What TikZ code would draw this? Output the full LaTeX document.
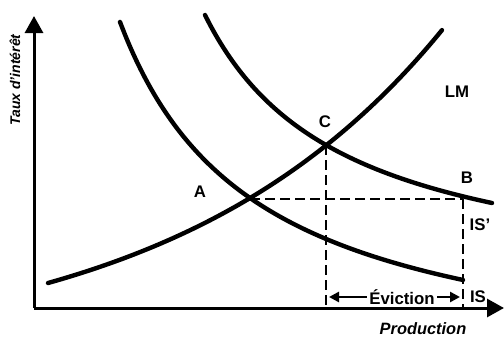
\documentclass[tikz,border=0pt]{standalone}
\usepackage{fontspec}
\setmainfont{Liberation Sans}
\usetikzlibrary{calc, positioning, arrows.meta}

\begin{document}
\begin{tikzpicture}[x=5pt, y=-5pt,
    axis/.style={line width=1.5pt, -{Triangle[length=8.5pt, width=9pt]}},
    curve/.style={line width=2.2pt, line cap=round, smooth},
    dashline/.style={line width=1.4pt, dash pattern=on 5pt off 2.5pt},
    lbl/.style={inner sep=0pt, font=\fontsize{8.4}{10}\selectfont\bfseries},
    evarrow/.style={line width=1.4pt, -{Triangle[length=5pt, width=5pt]}}]
  \useasboundingbox (0,0) rectangle (50.4,33.7);
  \coordinate (O) at (3.4,30.8);
  \coordinate (ytop) at (3.4,1.6);
  \coordinate (xend) at (50.4,30.8);
  \coordinate (A) at (25.0,19.9);
  \coordinate (C) at (32.6,14.5);
  \coordinate (B) at (46.3,19.9);
  \coordinate (Cfoot) at (32.6,30.8);
  \coordinate (Bfoot) at (46.3,30.8);
  \coordinate (el) at (32.9,29.7);
  \coordinate (er) at (46.0,29.7);
  \draw[axis] (O) -- (ytop);
  \draw[axis] (O) -- (xend);
  \draw[curve] plot[domain=4.8:44.2, samples=60] (\x, {35.86-6.32*exp(0.0373*\x)});
  \draw[curve] plot[domain=12.0:46.3, samples=60] (\x, {38.25-491.4/(\x+1.63)});
  \draw[curve] plot[domain=20.5:49.2, samples=60] (\x, {29.36-385.29/(\x-6.67)});
  \draw[dashline] (A) -- (B);
  \draw[dashline] (C) -- (Cfoot);
  \draw[dashline] (B) -- (Bfoot);
  \node[lbl] (labA) at (20.0,19.2) {A};
  \node[lbl] (labC) at (32.5,12.2) {C};
  \node[lbl] (labB) at (46.7,17.8) {B};
  \node[lbl] (labLM) at (45.7,9.2) {LM};
  \node[lbl] (labISp) at (48.0,22.5) {IS'};
  \node[lbl] (labIS) at (47.8,29.7) {IS};
  \node[lbl, inner xsep=1pt] (ev) at (40.2,29.7) {Éviction};
  \draw[evarrow] (ev.west) -- (el);
  \draw[evarrow] (ev.east) -- (er);
  \node[lbl, font=\fontsize{8.2}{10}\selectfont\bfseries\itshape] (prod) at (42.3,32.9) {Production};
  \node[lbl, rotate=90, font=\fontsize{7}{8}\selectfont\bfseries\itshape] (taux) at (1.5,8.0) {Taux d'intérêt};
\end{tikzpicture}
\end{document}
